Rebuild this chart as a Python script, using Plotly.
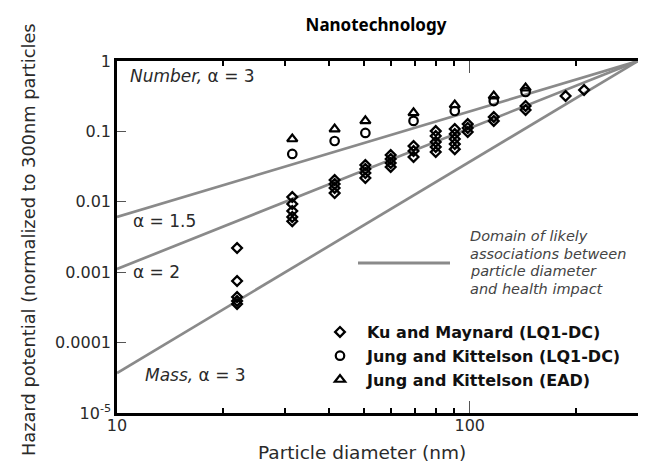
import plotly.graph_objects as go

# ---- data ----
ku_x = [21.9, 21.9, 21.9, 21.9, 21.9,
        31.4, 31.4, 31.4, 31.4, 31.4,
        41.4, 41.4, 41.4, 41.4,
        50.6, 50.6, 50.6, 50.6,
        59.7, 59.7, 59.7, 59.7,
        69.3, 69.3, 69.3,
        80.1, 80.1, 80.1, 80.1, 80.1,
        90.7, 90.7, 90.7, 90.7, 90.7,
        98.7, 98.7, 98.7,
        117, 117,
        144, 144,
        187, 211]
ku_y = [0.00221, 0.00075, 0.000445, 0.00039, 0.000353,
        0.0117, 0.0093, 0.0074, 0.0061, 0.0053,
        0.0204, 0.0179, 0.0157, 0.0133,
        0.0333, 0.0292, 0.0256, 0.0218,
        0.0462, 0.0405, 0.0356, 0.0312,
        0.062, 0.0527, 0.0433,
        0.101, 0.086, 0.0707, 0.060, 0.051,
        0.108, 0.092, 0.078, 0.066, 0.056,
        0.127, 0.112, 0.098,
        0.160, 0.141,
        0.230, 0.201,
        0.318, 0.387]

jk_lq_x = [31.4, 41.4, 50.6, 69.3, 90.7, 117, 144]
jk_lq_y = [0.0478, 0.073, 0.095, 0.141, 0.195, 0.270, 0.363]

jk_ead_x = [31.4, 41.4, 50.6, 69.3, 90.7, 117, 144]
jk_ead_y = [0.078, 0.108, 0.141, 0.183, 0.237, 0.318, 0.413]

ref_diameter = 300
line_x = [10, 300]
alphas = [1.5, 2, 3]

y_tickvals = [1, 0.1, 0.01, 0.001, 0.0001, 0.00001]
y_ticktext = ["1", "0.1", "0.01", "0.001", "0.0001", "10<sup>-5</sup>"]
x_tickvals = [10, 100]
x_ticktext = ["10", "100"]
x_minor = [20, 30, 40, 50, 60, 70, 80, 90, 200]

domain_lines = ["Domain of likely", "associations between", "particle diameter", "and health impact"]

FONT = "DejaVu Sans"
GRAY = "#8a8a8a"
TXT = "#2a2a2a"

fig = go.Figure()

for a in alphas:
    fig.add_trace(go.Scatter(
        x=line_x, y=[(v / ref_diameter) ** a for v in line_x],
        mode="lines", line=dict(color=GRAY, width=2.7),
        showlegend=False, hoverinfo="skip"))

fig.add_trace(go.Scatter(
    x=ku_x, y=ku_y, mode="markers", name="Ku and Maynard (LQ1-DC)",
    marker=dict(symbol="diamond-open", size=7.5, color="black", line=dict(width=2.3, color="black"))))
fig.add_trace(go.Scatter(
    x=jk_lq_x, y=jk_lq_y, mode="markers", name="Jung and Kittelson (LQ1-DC)",
    marker=dict(symbol="circle-open", size=8.5, color="black", line=dict(width=2.2, color="black"))))
fig.add_trace(go.Scatter(
    x=jk_ead_x, y=jk_ead_y, mode="markers", name="Jung and Kittelson (EAD)",
    marker=dict(symbol="triangle-up-open", size=9, color="black", line=dict(width=2.2, color="black"))))

L, R, T, B = 109, 16, 53, 58
W, H = 646, 463
pw, ph = W - L - R, H - T - B

def px(xp):
    return (xp - L) / pw

def py(yp):
    return (H - B - yp) / ph

ann_font = dict(family=FONT, size=17, color=TXT)
annotations = [
    dict(text="<i>Number,</i> α = 3", x=px(120), y=py(68), xanchor="left", yanchor="middle", font=ann_font),
    dict(text="α = 1.5", x=px(123), y=py(213), xanchor="left", yanchor="middle", font=ann_font),
    dict(text="α = 2", x=px(123), y=py(264), xanchor="left", yanchor="middle", font=ann_font),
    dict(text="<i>Mass,</i> α = 3", x=px(135), y=py(367), xanchor="left", yanchor="middle", font=ann_font),
    dict(text="Hazard potential (normalized to 300nm particles",
         x=px(20), y=py(232), xanchor="center", yanchor="middle", textangle=-90,
         font=dict(family=FONT, size=17.8, color=TXT)),
    dict(text="Particle diameter (nm)",
         x=px(354), y=py(445), xanchor="center", yanchor="middle",
         font=dict(family=FONT, size=18.5, color=TXT)),
]
for i, line in enumerate(domain_lines):
    annotations.append(dict(text="<i>" + line + "</i>", x=px(460), y=py(228 + 17.6 * i),
                            xanchor="left", yanchor="middle",
                            font=dict(family=FONT, size=14.5, color="#444")))
for a in annotations:
    a.update(xref="paper", yref="paper", showarrow=False)

fig.update_layout(
    width=W, height=H,
    margin=dict(l=L, r=R, t=T, b=B),
    plot_bgcolor="white", paper_bgcolor="white",
    font=dict(family=FONT, size=16, color=TXT),
    title=dict(text="<b>Nanotechnology</b>", x=368 / W, xref="container", xanchor="center",
               y=1 - 17 / H, yref="container", yanchor="middle",
               font=dict(family="Noto Sans", size=17, color="black")),
    annotations=annotations,
    shapes=[dict(type="line", xref="paper", yref="paper", x0=px(350), x1=px(442),
                 y0=py(255), y1=py(255), line=dict(color=GRAY, width=3))],
    legend=dict(x=px(305), y=py(307), xanchor="left", yanchor="top",
                bgcolor="rgba(0,0,0,0)", font=dict(family=FONT, size=16, color="#111", weight="bold"),
                itemwidth=44, tracegroupgap=0),
)

fig.update_xaxes(
    type="log", range=[1, 2.4771], showgrid=False, zeroline=False,
    showline=True, linecolor="black", linewidth=2.5, mirror="ticks",
    ticks="inside", ticklen=12, tickwidth=1, tickcolor="#555",
    tickvals=x_tickvals, ticktext=x_ticktext, ticklabelstandoff=-4,
    tickfont=dict(family=FONT, size=16, color=TXT),
    minor=dict(tickvals=x_minor, ticks="inside", ticklen=5, tickwidth=2, tickcolor="black", showgrid=False),
)
fig.update_yaxes(
    type="log", range=[-5, 0], showgrid=False, zeroline=False,
    showline=True, linecolor="black", linewidth=2.5, mirror=True,
    ticks="inside", ticklen=9, tickwidth=1, tickcolor="#555",
    tickvals=y_tickvals, ticktext=y_ticktext,
    tickfont=dict(family=FONT, size=16, color=TXT),
)

fig.write_html("out.html")
